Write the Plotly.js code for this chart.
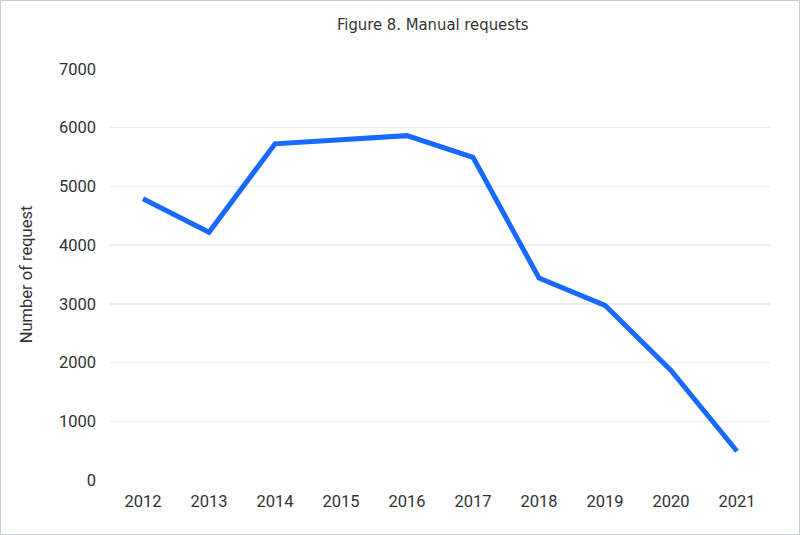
<!DOCTYPE html>
<html>
<head>
<meta charset="utf-8">
<script src="https://cdn.plot.ly/plotly-3.0.1.min.js"></script>
<style>
html,body{margin:0;padding:0;background:#fff;}
#chart{width:798px;height:533px;border:1px solid #c9ced3;}
</style>
</head>
<body>
<div id="chart"></div>
<script>
const years = ['2012','2013','2014','2015','2016','2017','2018','2019','2020','2021'];
const requests = [4790, 4220, 5725, 5805, 5865, 5495, 3440, 2975, 1865, 490];
const yTicks = [0,1000,2000,3000,4000,5000,6000,7000];

const trace = {
  x: years,
  y: requests,
  type: 'scatter',
  mode: 'lines',
  line: {color: '#1769ff', width: 5},
  hoverinfo: 'x+y'
};

const layout = {
  width: 798,
  height: 533,
  margin: {l: 109, r: 29, t: 68, b: 54},
  paper_bgcolor: '#ffffff',
  plot_bgcolor: '#ffffff',
  showlegend: false,
  font: {family: 'Roboto, Inter, sans-serif', size: 16.5, color: '#333333'},
  title: {
    text: 'Figure 8. Manual requests',
    font: {family: '"Liberation Sans Narrow", "DejaVu Sans Condensed", Roboto, sans-serif', size: 16.5, color: '#333333'},
    x: 0.541, xref: 'container', xanchor: 'center',
    y: 0.957, yref: 'container', yanchor: 'middle'
  },
  xaxis: {
    type: 'category',
    range: [-0.5, 9.5],
    showgrid: false,
    zeroline: false,
    showline: false,
    ticks: '',
    ticklabelstandoff: 9,
    tickfont: {size: 16.5, color: '#333333'}
  },
  yaxis: {
    range: [0, 7000],
    tickvals: yTicks,
    showgrid: true,
    gridcolor: '#ebebeb',
    gridwidth: 1.5,
    zeroline: false,
    showline: false,
    ticks: '',
    ticklabelstandoff: 13,
    tickfont: {size: 16.5, color: '#333333'},
    title: {text: 'Number of request', font: {size: 16.5, color: '#333333'}, standoff: 22}
  }
};

Plotly.newPlot('chart', [trace], layout, {displayModeBar: false, staticPlot: true});
</script>
</body>
</html>
